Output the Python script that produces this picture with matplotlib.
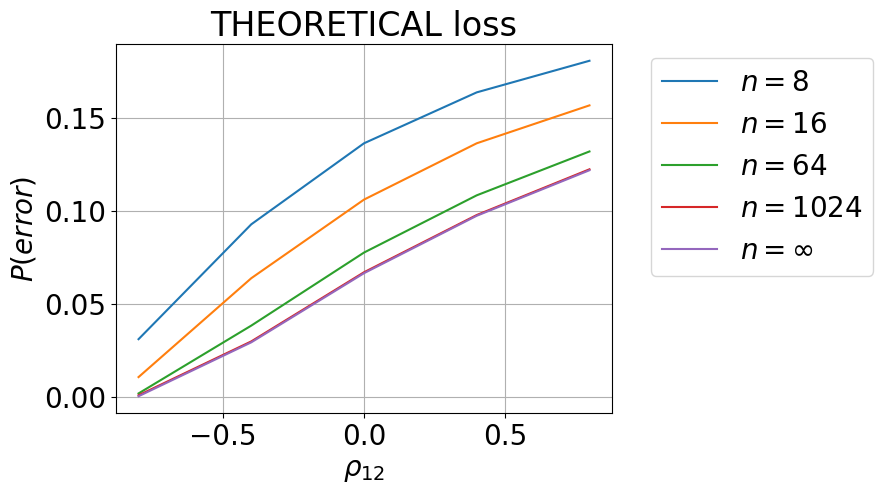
import numpy as np
import matplotlib
matplotlib.use("Agg")
from matplotlib import pyplot as plt

rho = [-0.8, -0.4, 0.0, 0.4, 0.8]
labels = ['$n=8$', '$n=16$', '$n=64$', '$n=1024$', r'$n=\infty$']
loss_8 = [0.0312, 0.093, 0.1366, 0.164, 0.181]
loss_16 = [0.0108, 0.064, 0.1063, 0.1366, 0.157]
loss_64 = [0.002, 0.0385, 0.0778, 0.1086, 0.1322]
loss_1024 = [0.001, 0.030, 0.0672, 0.098, 0.1226]
loss_inf = [0.0005, 0.0295, 0.0667, 0.0976, 0.1221]

plt.rcParams['font.size'] = 20

fig = plt.figure(figsize=(8.83, 4.95), dpi=100)
ax = fig.add_axes([116 / 883, 1 - 413 / 495, (612 - 116) / 883, (413 - 44) / 495])

for vals, lab in zip([loss_8, loss_16, loss_64, loss_1024, loss_inf], labels):
    ax.plot(rho, vals, label=lab)

ax.grid(True)
ax.set_xticks([-0.5, 0.0, 0.5])
ax.set_yticks([0.0, 0.05, 0.10, 0.15])
ax.set_xlabel(r'$\rho_{12}$')
ax.set_ylabel('$P(error)$')
ax.set_title('THEORETICAL loss')
ax.legend(loc='upper left', bbox_to_anchor=(1.05, 1.0))

fig.savefig('out.png')
